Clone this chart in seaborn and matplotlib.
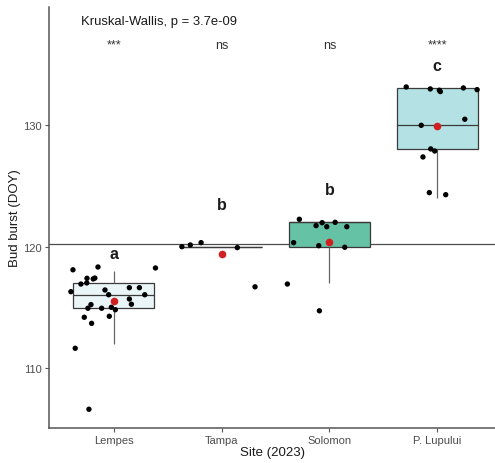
"""Bud burst (DOY) by site, 2023: boxplots with jittered points and group means."""

import matplotlib.pyplot as plt
import numpy as np
import pandas as pd
import seaborn as sns

sns.set_theme(style="white")
plt.rcParams["font.family"] = ["Liberation Sans", "DejaVu Sans"]

sites = ["Lempes", "Tampa", "Solomon", "P. Lupului"]
box_colors = ["#EAF5F7", "#D9EEF0", "#66C2A5", "#B3E1E4"]

# jittered points (y value, horizontal offset from the site centre)
lempes_y = [118.1, 118.33, 118.25, 117.4, 117.35, 117.42, 116.93, 117.02, 116.3, 116.44,
            116.05, 116.63, 116.63, 116.05, 115.7, 115.27, 115.24, 114.94, 114.94, 115.02,
            114.82, 114.2, 114.28, 113.7, 111.65, 106.64]
lempes_dx = [-0.378, -0.146, 0.387, -0.248, -0.19, -0.175, -0.304, -0.25, -0.397, -0.081,
             -0.047, 0.145, 0.238, 0.288, 0.145, 0.164, -0.211, -0.239, -0.112, -0.022,
             0.015, -0.273, -0.041, -0.205, -0.357, -0.23]
tampa_y = [120.0, 120.14, 120.33, 119.92, 116.7]
tampa_dx = [-0.368, -0.29, -0.19, 0.146, 0.31]
solomon_y = [122.25, 121.73, 121.97, 121.64, 122.0, 121.64, 120.33, 120.08, 119.95, 116.93, 114.73]
solomon_dx = [-0.279, -0.124, -0.068, -0.025, 0.053, 0.161, -0.332, -0.099, 0.142, -0.39, -0.093]
lupului_y = [133.12, 132.96, 132.85, 132.74, 133.04, 132.9, 130.47, 129.97, 128.03, 127.86,
             127.37, 124.44, 124.27]
lupului_dx = [-0.288, -0.065, 0.019, 0.028, 0.242, 0.369, 0.255, -0.149, -0.061, -0.024,
              -0.133, -0.074, 0.078]

letters = ["a", "b", "b", "c"]
letter_y = [119.4, 123.5, 124.66, 134.9]
signif = ["***", "ns", "ns", "****"]
kw_label = "Kruskal-Wallis, p = 3.7e-09"

rows = []
for i, (ys, dxs) in enumerate([(lempes_y, lempes_dx), (tampa_y, tampa_dx),
                               (solomon_y, solomon_dx), (lupului_y, lupului_dx)]):
    for y, dx in zip(ys, dxs):
        rows.append({"site": sites[i], "pos": i + dx, "y": y, "doy": round(y)})
df = pd.DataFrame(rows)

fig = plt.figure(figsize=(4.95, 4.64), dpi=100)
ax = fig.add_axes([0.099, 0.0754, 0.901, 0.9076])

axis_grey = "#555555"
sns.boxplot(data=df, x="site", y="doy", hue="site", order=sites, palette=box_colors,
            saturation=1, width=0.75, showfliers=False, showcaps=False,
            linecolor="#3a3a3a", linewidth=0.9, legend=False,
            whiskerprops={"color": "#666666"}, ax=ax)
ax.axhline(df["doy"].mean(), color="#4d4d4d", linewidth=0.9, zorder=1)
sns.scatterplot(data=df, x="pos", y="y", color="black", s=15, edgecolor="none",
                zorder=4, ax=ax)
sns.pointplot(data=df, x="site", y="doy", order=sites, estimator="mean", errorbar=None,
              linestyle="none", color="#D0201F", markers="o", markersize=5.5,
              markeredgewidth=0, ax=ax, zorder=5)

for i in range(len(sites)):
    ax.text(i, letter_y[i], letters[i], ha="center", va="center", fontsize=11.5,
            fontweight="bold", color="#1a1a1a")
    ax.text(i, 136.6, signif[i], ha="center", va="center", fontsize=9, color="#333333")
ax.text(-0.304, 138.5, kw_label, ha="left", va="center", fontsize=9.4, color="#1a1a1a")

ax.set_xlim(-0.6, 3.535)
ax.set_ylim(105.1, 139.7)
ax.set_yticks([110, 120, 130])
ax.set_xlabel("Site (2023)", fontsize=9.5, color="#1a1a1a", labelpad=1)
ax.set_ylabel("Bud burst (DOY)", fontsize=9.5, color="#1a1a1a", labelpad=2)
ax.tick_params(axis="both", labelsize=8, labelcolor="#4d4d4d", color=axis_grey,
               length=3, width=0.8, left=True, bottom=True, pad=2)
for side in ["top", "right"]:
    ax.spines[side].set_visible(False)
for side in ["left", "bottom"]:
    ax.spines[side].set_color(axis_grey)
    ax.spines[side].set_linewidth(1.1)

fig.savefig("out.png", dpi=100)
plt.close(fig)
